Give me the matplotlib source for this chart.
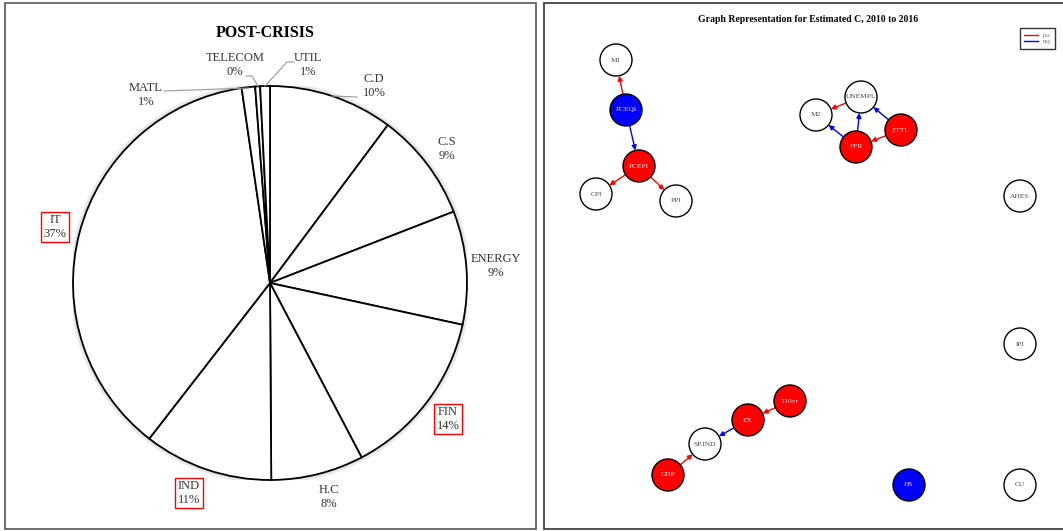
import matplotlib.pyplot as plt
from matplotlib.patches import Circle, Rectangle, FancyArrowPatch
from matplotlib.lines import Line2D
import numpy as np

plt.rcParams['font.family'] = ['Liberation Serif', 'DejaVu Serif']

# --- dane: wykres kolowy ---
sektory = ["C.D", "C.S", "ENERGY", "FIN", "H.C", "IND", "IT", "MATL", "TELECOM", "UTIL"]
udzialy = [10.2, 8.9, 9.3, 13.9, 7.6, 10.6, 37.2, 1.1, 0.4, 0.8]
wyroznione = ["IT", "IND", "FIN"]

# --- dane: graf ---
wezly = ["M1", "PCEQI", "PCEPI", "CPI", "PPI", "UNEMPL", "M2", "ETTL", "FFR",
         "AHES", "IPI", "T10yr", "EX", "SP.IND", "GDP", "HS", "CU"]
wezly_x = [616, 626, 639, 596, 676, 861, 816, 901, 856,
           1020, 1020, 790, 748, 705, 668, 909, 1020]
wezly_y = [60, 110, 166, 194, 201, 97, 115, 130, 147,
           196, 344, 401, 420, 444, 475, 485, 485]
wezly_kolor = ["white", "blue", "red", "white", "white", "white", "white", "red", "red",
               "white", "white", "red", "red", "white", "red", "blue", "white"]
krawedzie = [("PCEQI", "M1", "pos"), ("PCEQI", "PCEPI", "neg"),
             ("PCEPI", "CPI", "pos"), ("PCEPI", "PPI", "pos"),
             ("UNEMPL", "M2", "pos"), ("FFR", "M2", "neg"),
             ("FFR", "UNEMPL", "neg"), ("ETTL", "UNEMPL", "neg"),
             ("ETTL", "FFR", "pos"), ("T10yr", "EX", "pos"),
             ("EX", "SP.IND", "neg"), ("GDP", "SP.IND", "pos")]

W, H = 1063, 531
fig = plt.figure(figsize=(W / 100, H / 100), dpi=100)

# ramki paneli
fig.add_artist(Rectangle((5 / W, 1 - 529 / H), 531 / W, 526 / H, transform=fig.transFigure,
                         fill=False, edgecolor="#555555", linewidth=1.2))
fig.add_artist(Rectangle((544 / W, 1 - 529 / H), 520 / W, 526 / H, transform=fig.transFigure,
                         fill=False, edgecolor="#333333", linewidth=1.2))

# --- wykres kolowy ---
cx, cy, R = 270, 283, 197
ax1 = fig.add_axes([(cx - R) / W, 1 - (cy + R) / H, 2 * R / W, 2 * R / H])
# lekki cien dookola
for k in range(5):
    ax1.add_patch(Circle((0, 0), 1.0 + 0.004 * k, facecolor="none",
                         edgecolor="gray", alpha=0.08, linewidth=1.5))
ax1.pie(udzialy, startangle=90, counterclock=False, colors=["white"] * len(udzialy),
        wedgeprops=dict(edgecolor="black", linewidth=1.3))
ax1.set_xlim(-1, 1)
ax1.set_ylim(-1, 1)
ax1.axis("off")

def px2d(px, py):
    return (px - cx) / R, (cy - py) / R

pozycje = {"C.D": (374, 86), "C.S": (447, 149), "ENERGY": (496, 266), "FIN": (448, 419),
           "H.C": (329, 497), "IND": (189, 493), "IT": (55, 227), "MATL": (146, 95),
           "TELECOM": (235, 65), "UTIL": (308, 65)}
for nazwa, u in zip(sektory, udzialy):
    x, y = px2d(*pozycje[nazwa])
    tekst = nazwa + "\n" + str(int(round(u))) + "%"
    if nazwa in wyroznione:
        ax1.text(x, y, tekst, ha="center", va="center", fontsize=9, color="#333333",
                 linespacing=1.15,
                 bbox=dict(boxstyle="square,pad=0.2", facecolor="white", edgecolor="red", linewidth=1))
    else:
        ax1.text(x, y, tekst, ha="center", va="center", fontsize=9, color="#333333",
                 linespacing=1.15)

# linie odniesienia
linie = [[(357, 97), (332, 96)],
         [(164, 91), (249, 88)],
         [(246, 76), (252, 76), (258, 86)],
         [(294, 62), (287, 62), (265, 86)]]
for ln in linie:
    pts = [px2d(a, b) for a, b in ln]
    ax1.plot([p[0] for p in pts], [p[1] for p in pts], color="#999999", linewidth=0.8, clip_on=False)

fig.text(265 / W, 1 - 33 / H, "POST-CRISIS", ha="center", va="center", fontsize=11.5,
         fontweight="bold")

# --- graf ---
ax2 = fig.add_axes([544 / W, 0, 519 / W, 1])
ax2.set_xlim(544, 1063)
ax2.set_ylim(531, 0)
ax2.axis("off")
r = 16
poz = {n: (x, y) for n, x, y in zip(wezly, wezly_x, wezly_y)}
kolory = {"pos": "red", "neg": "blue"}

for a, b, znak in krawedzie:
    x1, y1 = poz[a]
    x2, y2 = poz[b]
    d = np.hypot(x2 - x1, y2 - y1)
    ux, uy = (x2 - x1) / d, (y2 - y1) / d
    strz = FancyArrowPatch((x1 + ux * r, y1 + uy * r), (x2 - ux * r, y2 - uy * r),
                           arrowstyle="-|>", mutation_scale=7, color=kolory[znak],
                           linewidth=1, shrinkA=0, shrinkB=0)
    ax2.add_patch(strz)

for n, x, y, k in zip(wezly, wezly_x, wezly_y, wezly_kolor):
    ax2.add_patch(Circle((x, y), r, facecolor=k, edgecolor="black", linewidth=1, zorder=3))
    kol_tekstu = "#444444" if k == "white" else "#ffdddd"
    ax2.text(x, y, n, ha="center", va="center", fontsize=5.3, color=kol_tekstu, zorder=4)

ax2.text(808, 20, "Graph Representation for Estimated C, 2010 to 2016", fontsize=7,
         fontweight="bold", ha="center", va="center")

uchwyty = [Line2D([0], [0], color="red", linewidth=1), Line2D([0], [0], color="blue", linewidth=1)]
leg = ax2.legend(uchwyty, ["pos", "neg"], loc="upper right", bbox_to_anchor=(0.99, 0.952),
                 fontsize=4, frameon=True, fancybox=False, handlelength=2.5,
                 borderpad=0.8, labelspacing=0.25)
leg.get_frame().set_edgecolor("black")
leg.get_frame().set_linewidth(1)
for t in leg.get_texts():
    t.set_color("#777777")

fig.savefig("out.png", dpi=100)
